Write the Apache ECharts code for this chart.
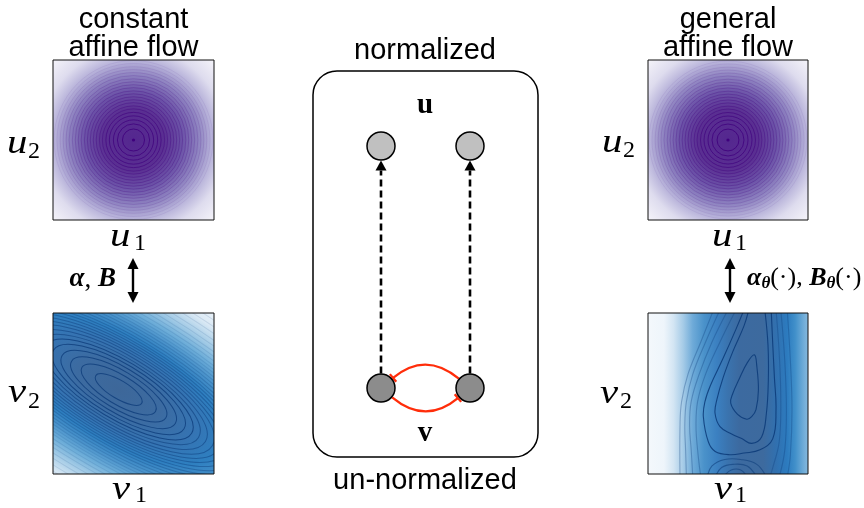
<!DOCTYPE html>
<html>
<head>
<meta charset="utf-8">
<script src="https://cdn.jsdelivr.net/npm/echarts@6/dist/echarts.min.js"></script>
<style>
html, body { margin: 0; padding: 0; background: #fff; }
#main { width: 864px; height: 508px; }
</style>
</head>
<body>
<div id="main"></div>
<script>
// graphical model in the centre panel (panel axis units)
const nodeNames = ['u1', 'u2', 'v1', 'v2']
const nodeX = [0, 1, 0, 1]
const nodeY = [1, 1, 0, 0]
// [from, to, kind]  kind 0 = flow (dashed arrow), 1 = inhibition (red arc)
const edges = [[2, 0, 0], [3, 1, 0], [3, 2, 1], [2, 3, 1]]

// normalized space: isotropic density, contour radii (axis units)
const uCenter = [0, 0]
const uRings = [0.06, 0.41, 0.6, 0.75, 0.9, 1.03, 1.16, 1.27, 1.39, 1.5, 1.61, 1.72, 1.83, 1.95, 2.06, 2.17, 2.28, 2.4, 2.51, 2.62, 2.73, 2.85, 2.96]

// un-normalized space, constant affine flow: tilted ellipses
const vCenter = [-0.55, 0.15]
const vTilt = -31
const vAspect = 0.34
const vRings = [1.0, 1.6, 2.05, 2.46, 2.84, 3.17, 3.47, 3.77, 4.07, 4.33, 4.59, 4.85, 5.11, 5.37, 5.63, 5.9, 6.2, 6.5, 6.8, 7.1, 7.4, 7.7, 8.0, 8.4, 8.8, 9.2, 9.7, 10.2, 10.8, 11.4, 12.0]

// un-normalized space, general affine flow: contour lines (fraction of the panel)
const bananaContours = [
  [[0.665, 0.74], [0.68, 0.67], [0.69, 0.52], [0.675, 0.4], [0.648, 0.356], [0.617, 0.34], [0.56, 0.37], [0.517, 0.44], [0.53, 0.5], [0.57, 0.59], [0.62, 0.69]],
  [[0.63, 1.02], [0.6, 0.92], [0.53, 0.76], [0.47, 0.6], [0.43, 0.46], [0.419, 0.377], [0.45, 0.294], [0.52, 0.25], [0.586, 0.22], [0.648, 0.19], [0.71, 0.23], [0.74, 0.377], [0.752, 0.584], [0.75, 0.8], [0.73, 1.02]],
  [[0.6, 1.02], [0.55, 0.9], [0.47, 0.72], [0.39, 0.55], [0.356, 0.45], [0.346, 0.356], [0.377, 0.2], [0.42, 0.14], [0.51, 0.12], [0.6, 0.13], [0.7, 0.15], [0.78, 0.22], [0.8, 0.4], [0.79, 0.6], [0.78, 0.8], [0.77, 1.02]],
  [[0.37, -0.02], [0.4, 0.05], [0.48, 0.09], [0.58, 0.09], [0.68, 0.06], [0.74, -0.02]],
  [[0.42, -0.02], [0.46, 0.04], [0.53, 0.06], [0.62, 0.05], [0.68, -0.02]],
  [[0.47, -0.02], [0.52, 0.025], [0.58, 0.025], [0.62, -0.02]],
  [[0.55, 1.02], [0.45, 0.82], [0.36, 0.62], [0.31, 0.45], [0.3, 0.3], [0.31, 0.15], [0.33, -0.02]],
  [[0.5, 1.02], [0.4, 0.82], [0.32, 0.62], [0.27, 0.45], [0.26, 0.3], [0.27, 0.15], [0.28, -0.02]],
  [[0.45, 1.02], [0.36, 0.82], [0.28, 0.62], [0.24, 0.45], [0.23, 0.3], [0.235, 0.15], [0.24, -0.02]],
  [[0.41, 1.02], [0.33, 0.82], [0.25, 0.62], [0.21, 0.45], [0.2, 0.3], [0.2, -0.02]],
  [[0.8, 1.02], [0.82, 0.75], [0.83, 0.45], [0.82, 0.2], [0.78, 0.04], [0.76, -0.02]],
  [[0.83, 1.02], [0.855, 0.7], [0.865, 0.4], [0.855, 0.15], [0.82, -0.02]],
  [[0.87, 1.02], [0.89, 0.7], [0.9, 0.4], [0.89, 0.12], [0.87, -0.02]]
]
const bananaClosed = [true, false, false, false, false, false, false, false, false, false, false, false, false]

const SANS = "'Liberation Sans', Arial, sans-serif"
const SERIF = "'Liberation Serif', 'DejaVu Serif', serif"
const NODE_R = 14.5

const myChart = echarts.init(document.getElementById('main'))

const purpleStops = [
  { offset: 0, color: '#54278f' },
  { offset: 0.26, color: '#5a2f92' },
  { offset: 0.42, color: '#6c53a8' },
  { offset: 0.56, color: '#8f84c1' },
  { offset: 0.67, color: '#b6b1d9' },
  { offset: 0.8, color: '#dedcee' },
  { offset: 1, color: '#f8f7fb' }
]
const blueStops = [
  { offset: 0, color: '#3d6799' },
  { offset: 0.15, color: '#3c6ba1' },
  { offset: 0.27, color: '#3574b3' },
  { offset: 0.36, color: '#2e7fc0' },
  { offset: 0.44, color: '#4a93cb' },
  { offset: 0.52, color: '#6eaed9' },
  { offset: 0.61, color: '#a3cbe6' },
  { offset: 0.72, color: '#dceaf5' },
  { offset: 0.85, color: '#f1f6fb' },
  { offset: 1, color: '#f7fbff' }
]
const bananaStops = [
  { offset: 0, color: '#f4f8fc' },
  { offset: 0.1, color: '#eef5fb' },
  { offset: 0.16, color: '#d3e5f3' },
  { offset: 0.22, color: '#a5cbe7' },
  { offset: 0.28, color: '#6eaad8' },
  { offset: 0.35, color: '#4a92ca' },
  { offset: 0.43, color: '#3b80c1' },
  { offset: 0.5, color: '#3a73ae' },
  { offset: 0.57, color: '#3c6aa0' },
  { offset: 0.72, color: '#3d6a9e' },
  { offset: 0.8, color: '#3170af' },
  { offset: 0.87, color: '#2c7bbf' },
  { offset: 0.92, color: '#4190ca' },
  { offset: 0.97, color: '#6eabd7' },
  { offset: 1, color: '#86b9de' }
]

function purpleBackground (params, api) {
  const cs = params.coordSys
  const c = api.coord(uCenter)
  const R = api.size([4.35, 0])[0]
  return {
    type: 'rect',
    shape: { x: cs.x, y: cs.y, width: cs.width, height: cs.height },
    style: { fill: { type: 'radial', x: c[0], y: c[1], r: R, global: true, colorStops: purpleStops } }
  }
}

function purpleRing (params, api) {
  const c = api.coord([api.value(0), api.value(1)])
  const r = api.size([api.value(2), 0])[0]
  const i = params.dataIndex
  if (i === 0) {
    return { type: 'circle', shape: { cx: c[0], cy: c[1], r: r }, style: { fill: '#3f007d' } }
  }
  const op = i < 6 ? 0.85 - (i - 1) * 0.06 : Math.max(0.07, 0.4 - (i - 6) * 0.022)
  return {
    type: 'circle',
    shape: { cx: c[0], cy: c[1], r: r },
    style: { fill: 'none', stroke: '#3f007d', lineWidth: 1, opacity: op }
  }
}

function blueBackground (params, api) {
  const cs = params.coordSys
  const c = api.coord(vCenter)
  const R = api.size([12, 0])[0]
  return {
    type: 'group',
    children: [
      { type: 'rect', shape: { x: cs.x, y: cs.y, width: cs.width, height: cs.height }, style: { fill: '#f7fbff' } },
      {
        type: 'circle',
        x: c[0],
        y: c[1],
        rotation: vTilt * Math.PI / 180,
        scaleY: 0.45,
        shape: { cx: 0, cy: 0, r: R },
        style: { fill: { type: 'radial', x: 0.5, y: 0.5, r: 0.5, colorStops: blueStops } }
      }
    ]
  }
}

function blueRing (params, api) {
  const c = api.coord([api.value(0), api.value(1)])
  const a = api.size([api.value(2), 0])[0]
  const i = params.dataIndex
  return {
    type: 'ellipse',
    x: c[0],
    y: c[1],
    rotation: vTilt * Math.PI / 180,
    shape: { cx: 0, cy: 0, rx: a, ry: a * vAspect },
    style: { fill: 'none', stroke: '#0b3a78', lineWidth: 1, opacity: i < 6 ? 0.75 : Math.max(0.12, 0.55 - (i - 6) * 0.03) }
  }
}

function bananaBackground (params, api) {
  const cs = params.coordSys
  return {
    type: 'rect',
    shape: { x: cs.x, y: cs.y, width: cs.width, height: cs.height },
    style: { fill: { type: 'linear', x: 0, y: 0, x2: 1, y2: 0, colorStops: bananaStops } }
  }
}

function bananaLine (params, api) {
  const i = params.dataIndex
  const pts = bananaContours[i].map(p => api.coord(p))
  return {
    type: bananaClosed[i] ? 'polygon' : 'polyline',
    shape: { points: pts, smooth: 0.4 },
    style: { fill: 'none', stroke: '#0b3a78', lineWidth: 1.1, opacity: i < 3 ? 0.85 : (i < 6 ? 0.55 : 0.32) }
  }
}

function onCircle (p, toward, r) {
  const dx = toward[0] - p[0]
  const dy = toward[1] - p[1]
  const l = Math.hypot(dx, dy)
  return [p[0] + dx / l * r, p[1] + dy / l * r]
}

function renderEdge (params, api) {
  const a = api.coord([nodeX[api.value(0)], nodeY[api.value(0)]])
  const b = api.coord([nodeX[api.value(1)], nodeY[api.value(1)]])
  const dx = b[0] - a[0]
  const dy = b[1] - a[1]
  const len = Math.hypot(dx, dy)
  const ux = dx / len
  const uy = dy / len
  if (api.value(2) === 0) {
    const s = onCircle(a, b, NODE_R)
    const tip = onCircle(b, a, NODE_R)
    const base = [tip[0] - ux * 10, tip[1] - uy * 10]
    return {
      type: 'group',
      children: [
        { type: 'line', shape: { x1: s[0], y1: s[1], x2: base[0], y2: base[1] }, style: { stroke: '#000', lineWidth: 2.6, lineDash: [7, 4] } },
        { type: 'polygon', shape: { points: [tip, [base[0] - uy * 5.5, base[1] + ux * 5.5], [base[0] + uy * 5.5, base[1] - ux * 5.5]] }, style: { fill: '#000' } }
      ]
    }
  }
  const bend = 37
  const cp = [(a[0] + b[0]) / 2 - uy * bend, (a[1] + b[1]) / 2 + ux * bend]
  const s = onCircle(a, cp, NODE_R)
  const e = onCircle(b, cp, NODE_R + 1.2)
  const tl = Math.hypot(e[0] - cp[0], e[1] - cp[1])
  const tx = (e[0] - cp[0]) / tl
  const ty = (e[1] - cp[1]) / tl
  return {
    type: 'group',
    children: [
      { type: 'bezierCurve', shape: { x1: s[0], y1: s[1], x2: e[0], y2: e[1], cpx1: cp[0], cpy1: cp[1] }, style: { fill: 'none', stroke: '#ff2d0a', lineWidth: 2.3 } },
      { type: 'line', shape: { x1: e[0] - ty * 5, y1: e[1] + tx * 5, x2: e[0] + ty * 5, y2: e[1] - tx * 5 }, style: { stroke: '#ff2d0a', lineWidth: 2.3 } }
    ]
  }
}

// text helpers: y given as alphabetic baseline
function txt (s, x, base, size, font, align, sx) {
  return {
    type: 'text',
    x: x,
    y: base - size * 0.215,
    scaleX: sx || 1,
    style: { text: s, font: font.replace('%', size + 'px'), fill: '#000', align: align || 'left', verticalAlign: 'middle' }
  }
}
function mathLabel (letter, sub, x, base, subX, subBase) {
  return [
    txt(letter, x, base, 34, 'italic % ' + SERIF, 'left', 1.2),
    txt(sub, subX, subBase, 24, '% ' + SERIF)
  ]
}
function dblArrow (x, y1, y2) {
  return [
    { type: 'line', shape: { x1: x, y1: y1 + 8, x2: x, y2: y2 - 8 }, style: { stroke: '#000', lineWidth: 2.4 } },
    { type: 'polygon', shape: { points: [[x, y1], [x - 5.5, y1 + 11], [x + 5.5, y1 + 11]] }, style: { fill: '#000' } },
    { type: 'polygon', shape: { points: [[x, y2], [x - 5.5, y2 - 11], [x + 5.5, y2 - 11]] }, style: { fill: '#000' } }
  ]
}

const grids = [
  { left: 53, top: 60, width: 161, height: 160 },
  { left: 648, top: 60, width: 160, height: 160 },
  { left: 53, top: 313, width: 161, height: 161 },
  { left: 648, top: 313, width: 160, height: 161 },
  { left: 381, top: 146, width: 89, height: 242 }
]
const ranges = [[-3, 3], [-3, 3], [-3, 3], [0, 1], [0, 1]]

const option = {
  animation: false,
  backgroundColor: '#fff',
  grid: grids.map((g, i) => Object.assign({}, g, {
    show: i < 4,
    z: 10,
    borderColor: '#111',
    borderWidth: 1,
    backgroundColor: 'transparent'
  })),
  xAxis: grids.map((g, i) => ({ gridIndex: i, type: 'value', min: ranges[i][0], max: ranges[i][1], show: false })),
  yAxis: grids.map((g, i) => ({ gridIndex: i, type: 'value', min: ranges[i][0], max: ranges[i][1], show: false })),
  series: [
    { type: 'custom', xAxisIndex: 0, yAxisIndex: 0, clip: true, renderItem: purpleBackground, data: [uCenter] },
    { type: 'custom', xAxisIndex: 0, yAxisIndex: 0, clip: true, renderItem: purpleRing, data: uRings.map(r => [uCenter[0], uCenter[1], r]) },
    { type: 'custom', xAxisIndex: 1, yAxisIndex: 1, clip: true, renderItem: purpleBackground, data: [uCenter] },
    { type: 'custom', xAxisIndex: 1, yAxisIndex: 1, clip: true, renderItem: purpleRing, data: uRings.map(r => [uCenter[0], uCenter[1], r]) },
    { type: 'custom', xAxisIndex: 2, yAxisIndex: 2, clip: true, renderItem: blueBackground, data: [vCenter] },
    { type: 'custom', xAxisIndex: 2, yAxisIndex: 2, clip: true, renderItem: blueRing, data: vRings.map(r => [vCenter[0], vCenter[1], r]) },
    { type: 'custom', xAxisIndex: 3, yAxisIndex: 3, clip: true, renderItem: bananaBackground, data: [[0.5, 0.5]] },
    { type: 'custom', xAxisIndex: 3, yAxisIndex: 3, clip: true, renderItem: bananaLine, data: bananaContours.map((c, i) => [c[0][0], c[0][1], i]) },
    { type: 'custom', xAxisIndex: 4, yAxisIndex: 4, clip: false, renderItem: renderEdge, data: edges },
    {
      type: 'scatter',
      name: 'nodes',
      xAxisIndex: 4,
      yAxisIndex: 4,
      clip: false,
      z: 5,
      symbolSize: 28,
      data: nodeNames.map((n, i) => ({
        name: n,
        value: [nodeX[i], nodeY[i]],
        itemStyle: { color: nodeY[i] ? '#c0c0c0' : '#8c8c8c', borderColor: '#000', borderWidth: 1.5, opacity: 1 }
      }))
    }
  ],
  graphic: [
    { type: 'rect', shape: { x: 313, y: 71, width: 225, height: 386, r: 24 }, style: { fill: 'none', stroke: '#000', lineWidth: 1.5 } },
    txt('constant', 133.5, 26, 29, '% ' + SANS, 'center'),
    txt('affine flow', 133.5, 54, 29, '% ' + SANS, 'center'),
    txt('general', 728, 26, 29, '% ' + SANS, 'center'),
    txt('affine flow', 728, 54, 29, '% ' + SANS, 'center'),
    txt('normalized', 425, 57, 29, '% ' + SANS, 'center'),
    txt('un-normalized', 425, 487, 29, '% ' + SANS, 'center'),
    txt('u', 425, 112, 29, 'bold % ' + SERIF, 'center'),
    txt('v', 425, 440, 29, 'bold % ' + SERIF, 'center'),
    ...mathLabel('u', '2', 7, 151, 28, 157),
    ...mathLabel('u', '1', 110, 244, 134, 249),
    ...mathLabel('u', '2', 602, 150, 623, 156),
    ...mathLabel('u', '1', 712, 244, 735, 249),
    ...mathLabel('v', '2', 8, 400, 28, 407),
    ...mathLabel('v', '1', 112, 497, 135, 501),
    ...mathLabel('v', '2', 600, 401, 620, 407),
    ...mathLabel('v', '1', 714, 497, 735, 501),
    ...dblArrow(133, 258, 303),
    ...dblArrow(730, 258, 303),
    {
      type: 'text',
      x: 116,
      y: 279.5,
      style: {
        text: '{b|α}{n|, }{b|B}',
        align: 'right',
        verticalAlign: 'middle',
        rich: {
          b: { font: 'italic bold 27px ' + SERIF, fill: '#000' },
          n: { font: '27px ' + SERIF, fill: '#000' }
        }
      }
    },
    {
      type: 'text',
      x: 747,
      y: 279,
      style: {
        text: '{b|α}{s|θ}{n|(·), }{b|B}{s|θ}{n|(·)}',
        align: 'left',
        verticalAlign: 'middle',
        rich: {
          b: { font: 'italic bold 26px ' + SERIF, fill: '#000', verticalAlign: 'top' },
          s: { font: 'italic bold 17px ' + SERIF, fill: '#000', verticalAlign: 'top', padding: [10, 0, 0, 0] },
          n: { font: '26px ' + SERIF, fill: '#000', verticalAlign: 'top' }
        }
      }
    }
  ]
}

myChart.setOption(option)
</script>
</body>
</html>
